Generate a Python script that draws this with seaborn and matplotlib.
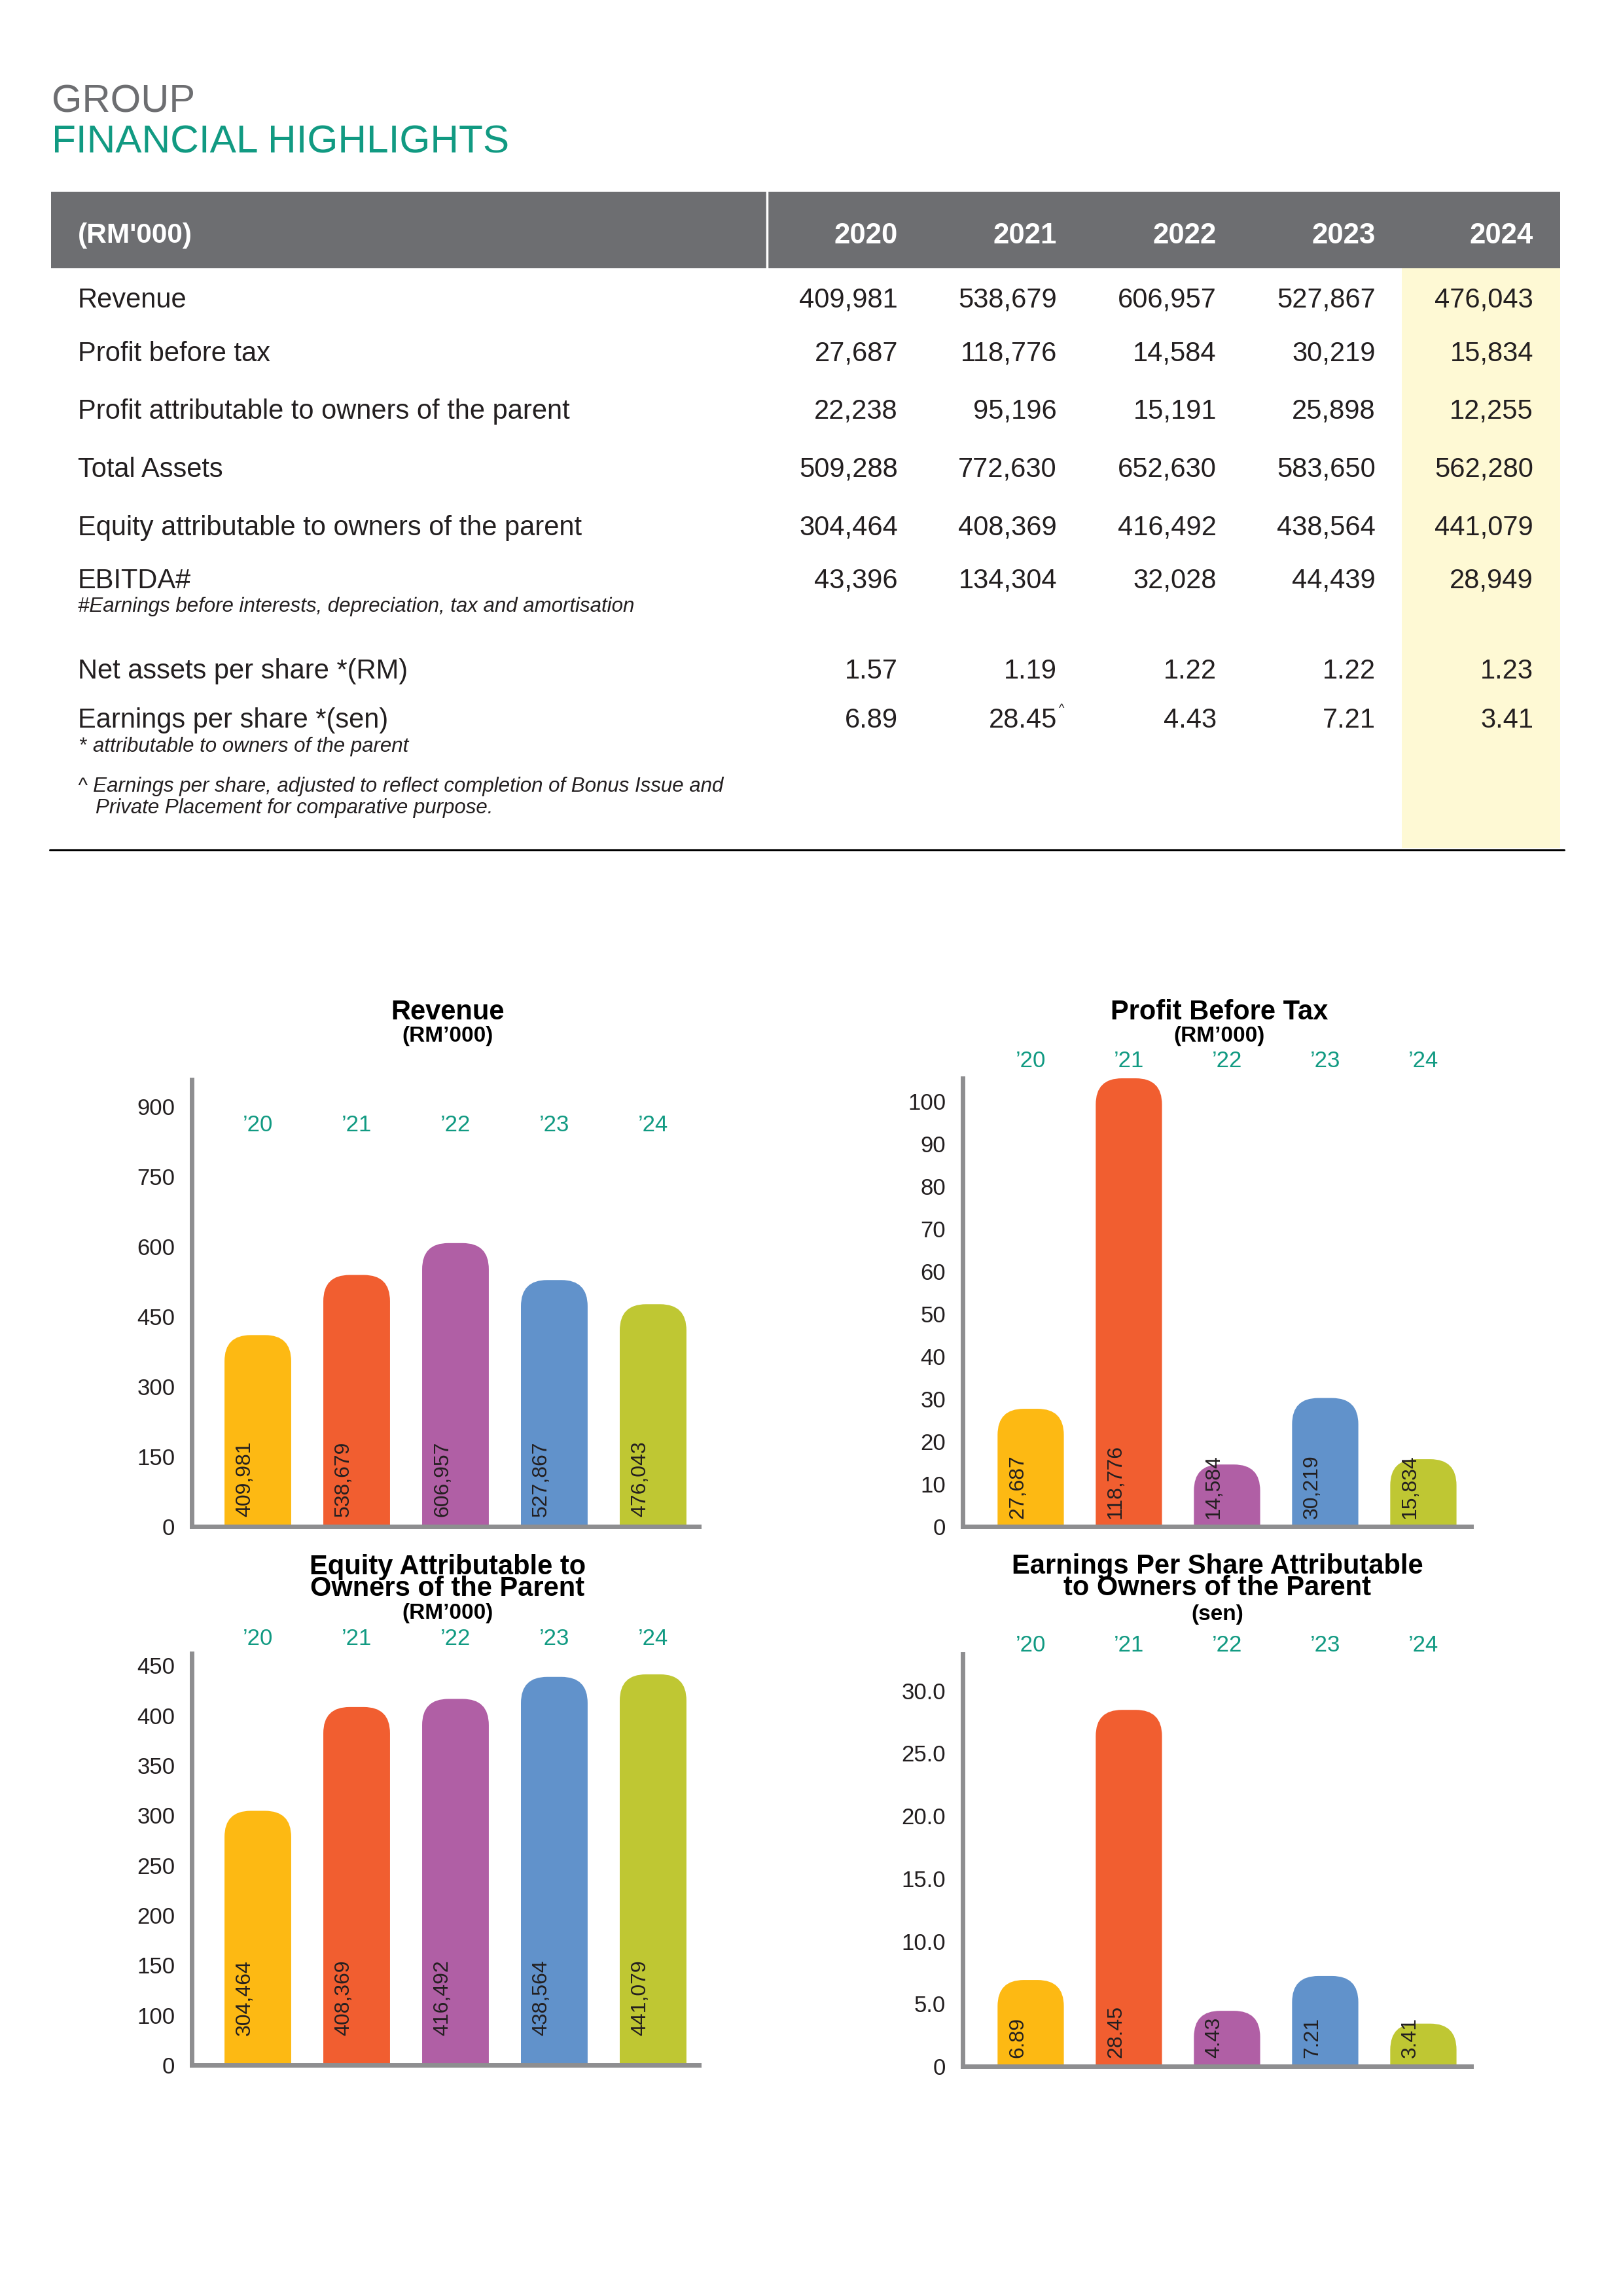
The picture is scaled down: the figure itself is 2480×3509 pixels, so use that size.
import numpy as np
import pandas as pd
import matplotlib
matplotlib.use("Agg")
import matplotlib.pyplot as plt
import seaborn as sns
from matplotlib.patches import FancyBboxPatch, Rectangle
from matplotlib.transforms import blended_transform_factory

# ---------------------------------------------------
# Data
# ---------------------------------------------------
years = ["2020", "2021", "2022", "2023", "2024"]
year_short = ["’20", "’21", "’22", "’23", "’24"]

row_labels = [
    "Revenue",
    "Profit before tax",
    "Profit attributable to owners of the parent",
    "Total Assets",
    "Equity attributable to owners of the parent",
    "EBITDA#",
    "Net assets per share *(RM)",
    "Earnings per share *(sen)",
]
revenue = [409981, 538679, 606957, 527867, 476043]
profit_before_tax = [27687, 118776, 14584, 30219, 15834]
profit_attr = [22238, 95196, 15191, 25898, 12255]
total_assets = [509288, 772630, 652630, 583650, 562280]
equity_attr = [304464, 408369, 416492, 438564, 441079]
ebitda = [43396, 134304, 32028, 44439, 28949]
nav_per_share = [1.57, 1.19, 1.22, 1.22, 1.23]
eps = [6.89, 28.45, 4.43, 7.21, 3.41]

revenue_ticks = [0, 150, 300, 450, 600, 750, 900]
pbt_ticks = [0, 10, 20, 30, 40, 50, 60, 70, 80, 90, 100]
equity_ticks = [0, 100, 150, 200, 250, 300, 350, 400, 450]
eps_ticks = [0, 5, 10, 15, 20, 25, 30]
eps_tick_labels = ["0", "5.0", "10.0", "15.0", "20.0", "25.0", "30.0"]

# ---------------------------------------------------
# Style
# ---------------------------------------------------
W, H, DPI = 2480, 3509, 100
TEXT = "#231F20"
TEAL = "#119A82"
HEAD_GREY = "#6D6E71"
HIGHLIGHT = "#FEF9D4"
SPINE = "#8E8E90"
BAR_COLORS = ["#FDB913", "#F15E30", "#B05FA5", "#6192CB", "#BFC733"]

sns.set_style("white")
plt.rcParams["font.family"] = ["Liberation Sans", "DejaVu Sans"]

fig = plt.figure(figsize=(W / DPI, H / DPI), dpi=DPI)
bg = fig.add_axes([0, 0, 1, 1])
bg.set_xlim(0, W)
bg.set_ylim(H, 0)
bg.axis("off")


def txt(x, y, s, size, **kw):
    """Text centred vertically on the cap height at pixel y."""
    bg.text(x, y + 0.358 * size * DPI / 72, s, fontsize=size, va="baseline", **kw)


# ---------------------------------------------------
# Heading + table
# ---------------------------------------------------
bg.text(79, 171, "GROUP", fontsize=43, color=HEAD_GREY, va="baseline")
bg.text(79, 234, "FINANCIAL HIGHLIGHTS", fontsize=43.5, color=TEAL, va="baseline")

bg.add_patch(Rectangle((78, 293), 2384 - 78, 410 - 293, color=HEAD_GREY, lw=0))
bg.plot([1172, 1172], [293, 410], color="white", lw=2.5)
bg.add_patch(Rectangle((2142, 410), 2384 - 2142, 1296 - 410, color=HIGHLIGHT, lw=0))
bg.plot([76, 2390], [1299, 1299], color="black", lw=2.2)

col_right = [1372, 1615, 1859, 2102, 2343]
row_y = [455, 537, 625, 714, 803, 884, 1022, 1097]
table_rows = [revenue, profit_before_tax, profit_attr, total_assets,
              equity_attr, ebitda, nav_per_share, eps]

txt(119, 356, "(RM'000)", 30.5, color="white", fontweight="bold")
for xr, yr in zip(col_right, years):
    txt(xr, 356, yr, 31.5, color="white", fontweight="bold", ha="right")

for label, vals, y in zip(row_labels, table_rows, row_y):
    txt(119, y, label, 30, color=TEXT)
    for xr, v in zip(col_right, vals):
        s = f"{v:.2f}" if isinstance(v, float) else f"{v:,}"
        txt(xr, y, s, 30, color=TEXT, ha="right")
bg.text(1618, 1088, "^", fontsize=13, color=TEXT, va="baseline")

note = dict(color=TEXT, style="italic")
txt(119, 924, "#Earnings before interests, depreciation, tax and amortisation", 22.5, **note)
txt(119, 1138, "*", 22.5, **note)
txt(142, 1138, "attributable to owners of the parent", 22.5, **note)
txt(119, 1199, "^ Earnings per share, adjusted to reflect completion of Bonus Issue and",
    22.5, **note)
txt(146, 1232, "Private Placement for comparative purpose.", 22.5, **note)


# ---------------------------------------------------
# Charts
# ---------------------------------------------------
def round_tops(ax, y_top, radius_px=40):
    """Replace the seaborn bars with bars that have rounded top corners."""
    for bar in list(ax.patches):
        x, w, h = bar.get_x(), bar.get_width(), bar.get_height()
        colour = bar.get_facecolor()
        bar.remove()
        h = min(h, y_top)
        d = y_top * 0.01
        x0, y0 = ax.transData.transform((x, h))
        x1, _ = ax.transData.transform((x + w, h))
        _, y1 = ax.transData.transform((x, h - d))
        px = (x1 - x0) / w
        py = (y0 - y1) / d
        r = radius_px / px
        asp = px / py
        base = -3 * r * asp
        ax.add_patch(FancyBboxPatch(
            (x, base), w, h - base,
            boxstyle=f"round,pad=0,rounding_size={r}",
            mutation_aspect=asp, facecolor=colour, linewidth=0))


def bar_chart(box, values, xlim, y_top, ticks, tick_labels, label_fmt,
              year_y, lift, titles, title_x, scale=None):
    left, right, top, bottom = box
    ax = fig.add_axes([left / W, 1 - bottom / H, (right - left) / W, (bottom - top) / H])
    ax.set_facecolor("none")
    df = pd.DataFrame({"year": year_short, "value": values})
    sns.barplot(data=df, x="year", y="value", hue="year", palette=BAR_COLORS,
                legend=False, saturation=1, width=0.675, errorbar=None, ax=ax)
    if scale is not None:
        ax.set_yscale("function", functions=scale)
    ax.set_xlim(*xlim)
    ax.set_ylim(0, y_top)
    ax.set_yticks(ticks, tick_labels)
    round_tops(ax, y_top)

    sns.despine(ax=ax)
    for side in ["left", "bottom"]:
        ax.spines[side].set_color(SPINE)
        ax.spines[side].set_linewidth(5)
    ax.tick_params(axis="y", length=9.5, width=3, color=SPINE, labelsize=25,
                   pad=9, labelcolor=TEXT)
    ax.tick_params(axis="x", length=0, labelbottom=False)
    ax.set_xlabel("")
    ax.set_ylabel("")

    for i, v in enumerate(values):
        ax.annotate(label_fmt(v), xy=(i, 0), xytext=(-20, lift),
                    textcoords="offset pixels", rotation=90, ha="center",
                    va="bottom", fontsize=23, color=TEXT, annotation_clip=False)

    trans = blended_transform_factory(ax.transData, bg.transData)
    for i, lab in enumerate(year_short):
        ax.text(i, year_y + 0.358 * 25 * DPI / 72, lab, transform=trans,
                ha="center", va="baseline", fontsize=25, color=TEAL)

    for s, y, size in titles:
        txt(title_x, y, s, size, ha="center", color="black", fontweight="bold")
    return ax


def fwd(v):
    v = np.asarray(v, dtype=float)
    return np.where(v < 100, v / 100, 1 + (v - 100) / 50)


def inv(p):
    p = np.asarray(p, dtype=float)
    return np.where(p < 1, p * 100, 100 + (p - 1) * 50)


bar_chart((293, 1068, 1650, 2333), [v / 1000 for v in revenue], (-0.669, 4.464), 957,
          revenue_ticks, [str(t) for t in revenue_ticks], lambda v: f"{v * 1000:,.0f}",
          1717, 15, [("Revenue", 1543, 30), ("(RM’000)", 1580, 24)], 684)

bar_chart((1471, 2248, 1648, 2333), [v / 1000 for v in profit_before_tax], (-0.693, 4.487),
          105.4, pbt_ticks, [str(t) for t in pbt_ticks], lambda v: f"{v * 1000:,.0f}",
          1619, 12, [("Profit Before Tax", 1543, 30), ("(RM’000)", 1580, 24)], 1863)

bar_chart((293, 1068, 2527, 3156), [v / 1000 for v in equity_attr], (-0.669, 4.464), 462,
          equity_ticks, [str(t) for t in equity_ticks], lambda v: f"{v * 1000:,.0f}",
          2502, 45, [("Equity Attributable to", 2391, 30), ("Owners of the Parent", 2424, 30),
                     ("(RM’000)", 2462, 24)], 684, scale=(fwd, inv))

bar_chart((1471, 2248, 2528, 3158), eps, (-0.693, 4.487), 32.9,
          eps_ticks, eps_tick_labels, lambda v: f"{v:.2f}",
          2512, 13, [("Earnings Per Share Attributable", 2390, 30),
                     ("to Owners of the Parent", 2423, 30), ("(sen)", 2464, 24)], 1860)

fig.savefig("out.png", dpi=DPI)
